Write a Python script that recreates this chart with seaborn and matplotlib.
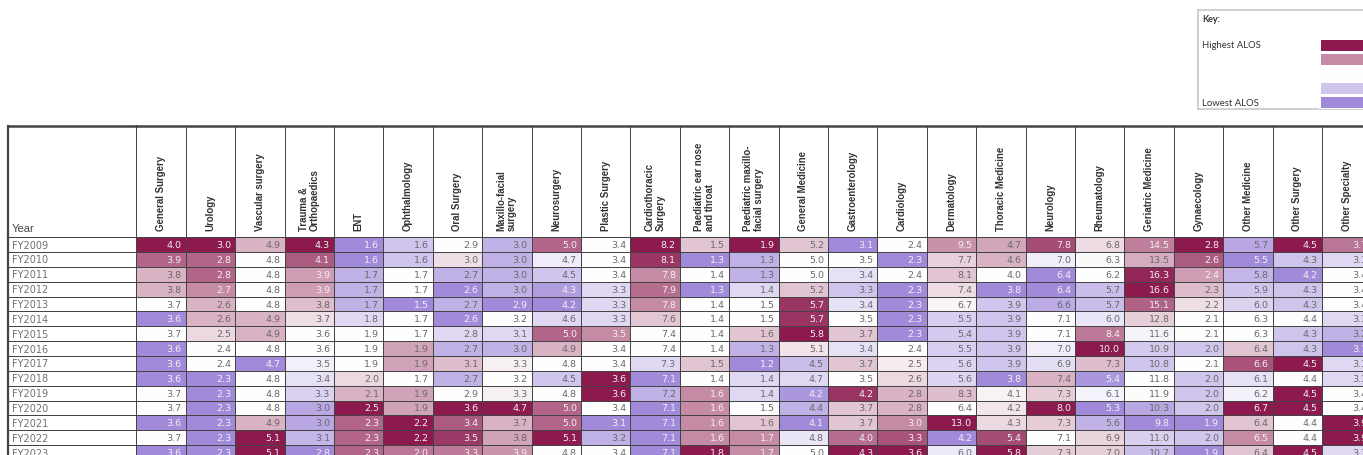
import numpy as np
import pandas as pd
import matplotlib.pyplot as plt
from matplotlib.colors import LinearSegmentedColormap, ListedColormap
import seaborn as sns

# Average length of stay (ALOS) by specialty and year
years = ["FY2009", "FY2010", "FY2011", "FY2012", "FY2013", "FY2014", "FY2015", "FY2016",
         "FY2017", "FY2018", "FY2019", "FY2020", "FY2021", "FY2022", "FY2023"]

general_surgery = [4.0, 3.9, 3.8, 3.8, 3.7, 3.6, 3.7, 3.6, 3.6, 3.6, 3.7, 3.7, 3.6, 3.7, 3.6]
urology = [3.0, 2.8, 2.8, 2.7, 2.6, 2.6, 2.5, 2.4, 2.4, 2.3, 2.3, 2.3, 2.3, 2.3, 2.3]
vascular_surgery = [4.9, 4.8, 4.8, 4.8, 4.8, 4.9, 4.9, 4.8, 4.7, 4.8, 4.8, 4.8, 4.9, 5.1, 5.1]
trauma_ortho = [4.3, 4.1, 3.9, 3.9, 3.8, 3.7, 3.6, 3.6, 3.5, 3.4, 3.3, 3.0, 3.0, 3.1, 2.8]
ent = [1.6, 1.6, 1.7, 1.7, 1.7, 1.8, 1.9, 1.9, 1.9, 2.0, 2.1, 2.5, 2.3, 2.3, 2.3]
ophthalmology = [1.6, 1.6, 1.7, 1.7, 1.5, 1.7, 1.7, 1.9, 1.9, 1.7, 1.9, 1.9, 2.2, 2.2, 2.0]
oral_surgery = [2.9, 3.0, 2.7, 2.6, 2.7, 2.6, 2.8, 2.7, 3.1, 2.7, 2.9, 3.6, 3.4, 3.5, 3.3]
maxillo_facial = [3.0, 3.0, 3.0, 3.0, 2.9, 3.2, 3.1, 3.0, 3.3, 3.2, 3.3, 4.7, 3.7, 3.8, 3.9]
neurosurgery = [5.0, 4.7, 4.5, 4.3, 4.2, 4.6, 5.0, 4.9, 4.8, 4.5, 4.8, 5.0, 5.0, 5.1, 4.8]
plastic_surgery = [3.4, 3.4, 3.4, 3.3, 3.3, 3.3, 3.5, 3.4, 3.4, 3.6, 3.6, 3.4, 3.1, 3.2, 3.4]
cardiothoracic = [8.2, 8.1, 7.8, 7.9, 7.8, 7.6, 7.4, 7.4, 7.3, 7.1, 7.2, 7.1, 7.1, 7.1, 7.1]
paed_ent = [1.5, 1.3, 1.4, 1.3, 1.4, 1.4, 1.4, 1.4, 1.5, 1.4, 1.6, 1.6, 1.6, 1.6, 1.8]
paed_maxillo = [1.9, 1.3, 1.3, 1.4, 1.5, 1.5, 1.6, 1.3, 1.2, 1.4, 1.4, 1.5, 1.6, 1.7, 1.7]
general_medicine = [5.2, 5.0, 5.0, 5.2, 5.7, 5.7, 5.8, 5.1, 4.5, 4.7, 4.2, 4.4, 4.1, 4.8, 5.0]
gastroenterology = [3.1, 3.5, 3.4, 3.3, 3.4, 3.5, 3.7, 3.4, 3.7, 3.5, 4.2, 3.7, 3.7, 4.0, 4.3]
cardiology = [2.4, 2.3, 2.4, 2.3, 2.3, 2.3, 2.3, 2.4, 2.5, 2.6, 2.8, 2.8, 3.0, 3.3, 3.6]
dermatology = [9.5, 7.7, 8.1, 7.4, 6.7, 5.5, 5.4, 5.5, 5.6, 5.6, 8.3, 6.4, 13.0, 4.2, 6.0]
thoracic_medicine = [4.7, 4.6, 4.0, 3.8, 3.9, 3.9, 3.9, 3.9, 3.9, 3.8, 4.1, 4.2, 4.3, 5.4, 5.8]
neurology = [7.8, 7.0, 6.4, 6.4, 6.6, 7.1, 7.1, 7.0, 6.9, 7.4, 7.3, 8.0, 7.3, 7.1, 7.3]
rheumatology = [6.8, 6.3, 6.2, 5.7, 5.7, 6.0, 8.4, 10.0, 7.3, 5.4, 6.1, 5.3, 5.6, 6.9, 7.0]
geriatric_medicine = [14.5, 13.5, 16.3, 16.6, 15.1, 12.8, 11.6, 10.9, 10.8, 11.8, 11.9, 10.3, 9.8, 11.0, 10.7]
gynaecology = [2.8, 2.6, 2.4, 2.3, 2.2, 2.1, 2.1, 2.0, 2.1, 2.0, 2.0, 2.0, 1.9, 2.0, 1.9]
other_medicine = [5.7, 5.5, 5.8, 5.9, 6.0, 6.3, 6.3, 6.4, 6.6, 6.1, 6.2, 6.7, 6.4, 6.5, 6.4]
other_surgery = [4.5, 4.3, 4.2, 4.3, 4.3, 4.4, 4.3, 4.3, 4.5, 4.4, 4.5, 4.5, 4.4, 4.4, 4.5]
other_specialty = [3.7, 3.3, 3.4, 3.4, 3.4, 3.3, 3.2, 3.1, 3.3, 3.3, 3.4, 3.4, 3.9, 3.9, 3.3]

specialties = ["General Surgery", "Urology", "Vascular surgery", "Trauma &\nOrthopaedics", "ENT",
               "Ophthalmology", "Oral Surgery", "Maxillo-facial\nsurgery", "Neurosurgery",
               "Plastic Surgery", "Cardiothoracic\nSurgery", "Paediatric ear nose\nand throat",
               "Paediatric maxillo-\nfacial surgery", "General Medicine", "Gastroenterology",
               "Cardiology", "Dermatology", "Thoracic Medicine", "Neurology", "Rheumatology",
               "Geriatric Medicine", "Gynaecology", "Other Medicine", "Other Surgery",
               "Other Specialty"]
columns = [general_surgery, urology, vascular_surgery, trauma_ortho, ent, ophthalmology,
           oral_surgery, maxillo_facial, neurosurgery, plastic_surgery, cardiothoracic,
           paed_ent, paed_maxillo, general_medicine, gastroenterology, cardiology, dermatology,
           thoracic_medicine, neurology, rheumatology, geriatric_medicine, gynaecology,
           other_medicine, other_surgery, other_specialty]

key_levels = [1.0, 0.75, 0.5, 0.25, 0.0]

df = pd.DataFrame(dict(zip(specialties, columns)), index=years)


# 3-colour scale per column: lowest -> purple, median -> white, highest -> maroon
def scale_column(col):
    lo, mid, hi = col.min(), col.median(), col.max()
    up = 0.5 + 0.5 * (col - mid) / max(hi - mid, 1e-9)
    down = 0.5 * (col - lo) / max(mid - lo, 1e-9)
    return pd.Series(np.where(col >= mid, up, down), index=col.index)


shade = df.apply(scale_column)
cmap = LinearSegmentedColormap.from_list("alos", ["#A18ADA", "#FFFFFF", "#8C1A4E"])

W, H = 1363, 456
fig = plt.figure(figsize=(W / 100, H / 100), dpi=100)


def px_axes(x0, y0, x1, y1):
    return fig.add_axes([x0 / W, 1 - y1 / H, (x1 - x0) / W, (y1 - y0) / H])


col_w, row_h = 49.4, 14.85
left, top, head_top, table_left = 136.3, 238.2, 126.5, 8.0
right = left + col_w * len(specialties)
bottom = top + row_h * len(years)
grid = "#444444"
lw = 0.7

# main heatmap
ax = px_axes(left, top, right, bottom)
sns.heatmap(shade, ax=ax, cmap=cmap, vmin=0, vmax=1, annot=df.values, fmt=".1f",
            cbar=False, linewidths=lw, linecolor=grid, xticklabels=False, yticklabels=False,
            annot_kws={"fontsize": 6.8})
for t in ax.texts:
    x, y = t.get_position()
    t.set_position((x + 0.42, y))
    t.set_ha("right")
    t.set_color("#f0f0f0" if t.get_color() == "w" else "#6a6a6a")

# year column
ax_year = px_axes(table_left, top, left, bottom)
sns.heatmap(pd.DataFrame({"Year": np.zeros(len(years))}, index=years), ax=ax_year,
            cmap=ListedColormap(["white"]), cbar=False, linewidths=lw, linecolor=grid,
            xticklabels=False, yticklabels=False)
for i, yr in enumerate(years):
    ax_year.text(0.03, i + 0.5, yr, ha="left", va="center", fontsize=7, color="#707070")
for s in ax_year.spines.values():
    s.set_visible(True)
    s.set_color(grid)
    s.set_linewidth(lw)
ax_year.spines["left"].set_linewidth(1.6)

# header row
ax_head = px_axes(left, head_top, right, top)
ax_head.set_xlim(0, len(specialties))
ax_head.set_ylim(0, 1)
ax_head.vlines(np.arange(len(specialties) + 1), 0, 1, color=grid, lw=lw)
for j, name in enumerate(specialties):
    ax_head.text(j + 0.5, 0.06, name, rotation=90, ha="center", va="bottom",
                 multialignment="left", fontsize=6.9, fontweight="bold",
                 family="Liberation Sans", color="#333333", linespacing=1.1)
ax_head.set_xticks([])
ax_head.set_yticks([])
for s in ax_head.spines.values():
    s.set_color(grid)
    s.set_linewidth(lw)
ax_head.spines["top"].set_linewidth(1.8)
ax_head.spines["left"].set_visible(False)
ax_head.spines["right"].set_visible(False)

ax_yh = px_axes(table_left, head_top, left, top)
ax_yh.set_xticks([])
ax_yh.set_yticks([])
ax_yh.text(0.03, 0.04, "Year", ha="left", va="bottom", fontsize=8, color="#444444",
           family="Liberation Sans")
for s in ax_yh.spines.values():
    s.set_color(grid)
    s.set_linewidth(lw)
ax_yh.spines["top"].set_linewidth(1.8)
ax_yh.spines["left"].set_linewidth(1.6)

# key box
ax_key = px_axes(1198, 11, 1420, 110)
ax_key.set_xticks([])
ax_key.set_yticks([])
for s in ax_key.spines.values():
    s.set_color("#c8c8c8")
    s.set_linewidth(1.2)
fig.text(1202 / W, 1 - 19 / H, "Key:", fontsize=6.5, fontweight="bold", family="Lato",
         color="#333333", va="center")
fig.text(1202 / W, 1 - 46 / H, "Highest ALOS", fontsize=6.8, family="Lato",
         color="#333333", va="center")
fig.text(1202 / W, 1 - 104 / H, "Lowest ALOS", fontsize=6.8, family="Lato",
         color="#333333", va="center")

ax_sw = px_axes(1319, 39, 1380, 110)
sns.heatmap(pd.DataFrame({"level": key_levels}), ax=ax_sw, cmap=cmap, vmin=0, vmax=1,
            cbar=False, linewidths=1.0, linecolor="white", xticklabels=False,
            yticklabels=False)

fig.savefig("out.png", dpi=100)
